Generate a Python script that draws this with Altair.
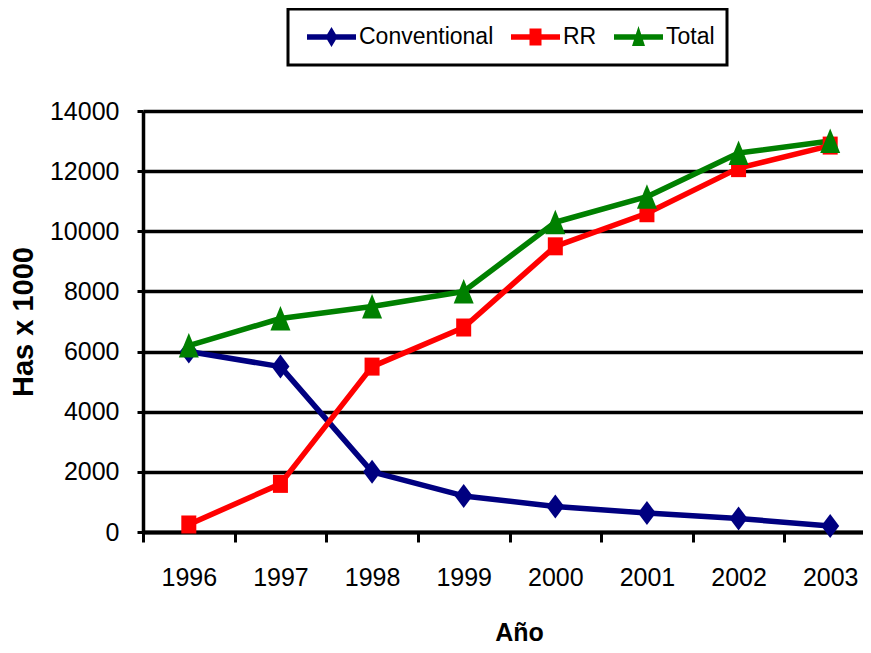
import altair as alt
import pandas as pd

years = ["1996", "1997", "1998", "1999", "2000", "2001", "2002", "2003"]
conventional = [6000, 5500, 2000, 1200, 850, 630, 450, 200]
rr = [250, 1600, 5500, 6800, 9500, 10600, 12100, 12850]
total = [6200, 7100, 7500, 8000, 10300, 11150, 12600, 13000]
series = ["Conventional", "RR", "Total"]
colors = ["#000080", "#FF0000", "#008000"]
y_ticks = [0, 2000, 4000, 6000, 8000, 10000, 12000, 14000]

marker_paths = [
    "M0,-1.2L0.9,0L0,1.2L-0.9,0Z",
    "M-0.75,-0.9H0.75V0.9H-0.75Z",
    "M0,-1.25L1,1.2L-1,1.2Z",
]
legend_paths = [
    "M-2.45,-0.27H2.45V0.27H-2.45Z M0,-1.0L0.6,0L0,1.0L-0.6,0Z",
    "M-2.45,-0.27H2.45V0.27H-2.45Z M-0.6,-0.85H0.6V0.85H-0.6Z",
    "M-2.45,-0.27H2.45V0.27H-2.45Z M0,-1.1L0.65,0.9L-0.65,0.9Z",
]

df = pd.DataFrame({
    "Year": years * 3,
    "Series": [s for s in series for _ in years],
    "Value": conventional + rr + total,
})

FONT = "Liberation Sans"

x_enc = alt.X(
    "Year:N",
    bandPosition=0.5,
    scale=alt.Scale(type="band", domain=years, range=[0, 733], paddingInner=0, paddingOuter=0),
    axis=alt.Axis(
        title="Año", titleFont=FONT, titleFontWeight="bold", titleFontSize=25,
        titleColor="black", titleX=376, titleY=108, titleBaseline="alphabetic",
        titleAlign="center", titleAngle=0,
        labelFont=FONT, labelFontSize=25, labelColor="black", labelAngle=0,
        labelPadding=23, labelBaseline="top",
        tickBand="extent", tickSize=10, tickWidth=3, tickColor="black",
        domainColor="black", domainWidth=4, grid=False,
    ),
)
y_enc = alt.Y(
    "Value:Q",
    scale=alt.Scale(domain=[0, 14000], nice=False, zero=True),
    axis=alt.Axis(
        values=y_ticks, format="d", title="Has x 1000", titleFont=FONT,
        titleFontWeight="bold", titleFontSize=29, titleColor="black",
        titleAngle=270, titleX=-120, titleY=210.5, titleBaseline="middle",
        titleAlign="center",
        labelFont=FONT, labelFontSize=25, labelColor="black", labelPadding=18,
        tickSize=6, tickWidth=3, tickColor="black",
        domainColor="black", domainWidth=3.5,
        grid=True, gridColor="black", gridWidth=3.5, gridOpacity=1,
    ),
)
color_scale = alt.Scale(domain=series, range=colors)

leg = alt.Legend(
    title=None, orient="none", legendX=145, legendY=-102, direction="horizontal",
    padding=12, strokeColor="black", fillColor="white",
    labelFont=FONT, labelFontSize=23, labelColor="black", labelBaseline="middle",
    symbolSize=400, symbolStrokeWidth=0, symbolOffset=20, labelOffset=16,
    columnPadding=10, symbolOpacity=1, clipHeight=32,
)

base = alt.Chart(df)

legend_layer = base.mark_point(filled=True, size=400, opacity=1).transform_filter(
    "datum.Value < 0"
).encode(
    x=x_enc, y=y_enc,
    color=alt.Color("Series:N", scale=color_scale, legend=leg),
    shape=alt.Shape("Series:N", scale=alt.Scale(domain=series, range=legend_paths), legend=leg),
)

lines = base.mark_line(strokeWidth=5.5, strokeJoin="round").encode(
    x=x_enc, y=y_enc,
    color=alt.Color("Series:N", scale=color_scale, legend=leg),
    order=alt.Order("Year:N"),
)

point_layers = []
for s, p in zip(series, marker_paths):
    point_layers.append(
        base.mark_point(shape=p, filled=True, size=400, opacity=1)
        .transform_filter(alt.datum.Series == s)
        .encode(x=x_enc, y=y_enc,
                color=alt.Color("Series:N", scale=color_scale, legend=leg))
    )

chart = alt.layer(legend_layer, lines, *point_layers).properties(
    width=720, height=421,
    autosize=alt.AutoSizeParams(type="none"),
    padding={"left": 135, "top": 103, "right": 0, "bottom": 113},
).configure_view(stroke=None).configure_legend(strokeWidth=3)

chart.save("out.html", embed_options={"renderer": "svg", "actions": False})
